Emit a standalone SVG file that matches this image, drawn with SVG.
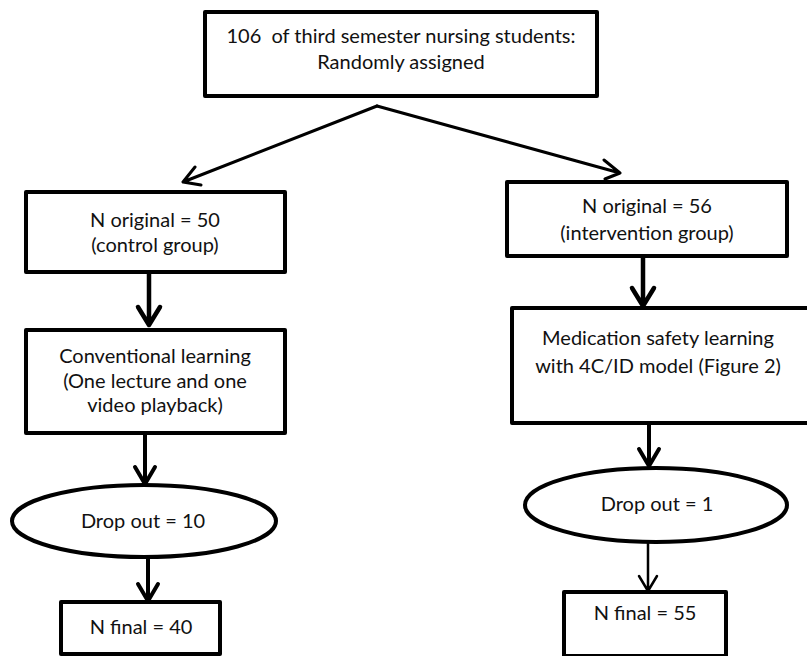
<svg xmlns="http://www.w3.org/2000/svg" width="807" height="656" viewBox="0 0 807 656">
<defs>
<style>
.box{fill:#fff;stroke:#000;stroke-width:4;stroke-linejoin:round}
.t{font-family:Lato,"Liberation Sans",sans-serif;font-size:20px;fill:#111;text-anchor:middle;white-space:pre}
.c{fill:none;stroke:#000;stroke-linecap:round;stroke-linejoin:round}
</style>
</defs>
<rect width="807" height="656" fill="#fff"/>
<g id="connectors">
<path class="c" stroke-width="3" d="M377,106 L183,182 M195,167 L183,182 L201,185"/>
<path class="c" stroke-width="3" d="M377,106 L620,173 M604,160 L620,173 L605,179"/>
<path class="c" stroke-width="4.5" d="M149,273 L149,325 M138,307 L149,325 L160,307"/>
<path class="c" stroke-width="4.5" d="M643,257 L643,306 M632,288 L643,306 L654,288"/>
<path class="c" stroke-width="4" d="M145,434 L145,484 M135,467 L145,484 L155,467"/>
<path class="c" stroke-width="4" d="M649,424 L649,466 M639,449 L649,466 L659,449"/>
<path class="c" stroke-width="4" d="M148,558 L148,601 M138,584 L148,601 L158,584"/>
<path class="c" stroke-width="2.5" d="M648,543 L648,591 M639,576 L648,591 L657,576"/>
</g>
<g id="n-top">
<rect class="box" x="205" y="12" width="392" height="84"/>
<text class="t" x="401" y="43" xml:space="preserve">106  of third semester nursing students:</text>
<text class="t" x="401" y="69">Randomly assigned</text>
</g>
<g id="n-control">
<rect class="box" x="26" y="192" width="259" height="80"/>
<text class="t" x="155" y="227">N original = 50</text>
<text class="t" x="155" y="252">(control group)</text>
</g>
<g id="n-intervention">
<rect class="box" x="507" y="182" width="280" height="74"/>
<text class="t" x="647" y="213">N original = 56</text>
<text class="t" x="647" y="240">(intervention group)</text>
</g>
<g id="n-conventional">
<rect class="box" x="26" y="330" width="259" height="103"/>
<text class="t" x="155" y="363">Conventional learning</text>
<text class="t" x="155" y="388">(One lecture and one</text>
<text class="t" x="155" y="412">video playback)</text>
</g>
<g id="n-medication">
<rect class="box" x="512" y="308" width="300" height="115"/>
<text class="t" x="658" y="345">Medication safety learning</text>
<text class="t" x="658" y="373">with 4C/ID model (Figure 2)</text>
</g>
<g id="n-drop10">
<ellipse class="box" cx="144" cy="521" rx="132" ry="36"/>
<text class="t" x="143" y="528">Drop out = 10</text>
</g>
<g id="n-drop1">
<ellipse class="box" cx="656" cy="505" rx="131" ry="37"/>
<text class="t" x="657" y="511">Drop out = 1</text>
</g>
<g id="n-final40">
<rect class="box" x="61" y="602" width="159" height="52"/>
<text class="t" x="141" y="634">N final = 40</text>
</g>
<g id="n-final55">
<rect class="box" x="564" y="592" width="162" height="64"/>
<text class="t" x="645" y="620">N final = 55</text>
</g>
</svg>
